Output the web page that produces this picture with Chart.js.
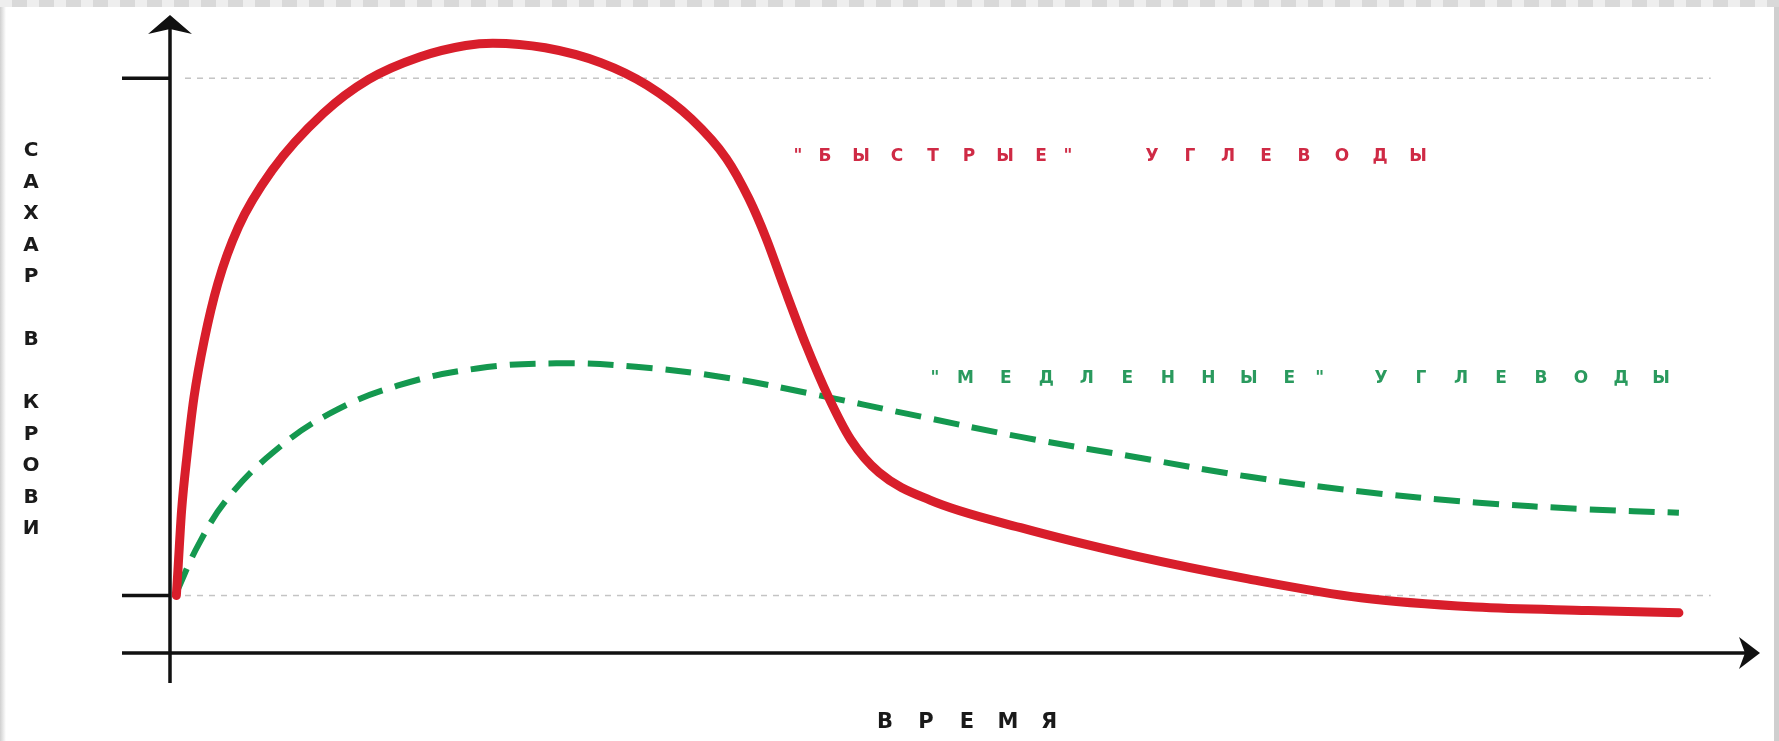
<!DOCTYPE html>
<html>
<head>
<meta charset="utf-8">
<script src="https://cdn.jsdelivr.net/npm/chart.js@4.4.1/dist/chart.umd.min.js"></script>
<style>
  html, body { margin: 0; padding: 0; background: #fff; }
  #wrap { position: relative; width: 1779px; height: 741px; }
</style>
</head>
<body>
<div id="wrap"><canvas id="sugarChart"></canvas></div>
<script>
// time axis runs 0..100, blood sugar 0..111 (reference levels at 10 and 100)
var fastX = [0.4, 0.51, 0.73, 1.08, 1.51, 2.15, 3.01, 4.3, 6.43, 9.65, 12.5, 15.7, 18.6, 20.3, 23.6, 27.1, 30.0, 32.8, 35.0, 36.4, 37.5, 38.6, 40.0, 41.4, 42.8, 44.6, 47.8, 53.5, 60.7, 67.8, 74.9, 82.1, 89.2, 94.9];
var fastY = [10, 14.9, 24.8, 34.6, 44.5, 54.4, 64.3, 74.1, 84.0, 93.9, 99.8, 103.7, 105.7, 106.1, 105.3, 102.7, 98.8, 92.9, 86.0, 79.1, 72.1, 63.8, 53.6, 44.6, 37.2, 31.4, 26.6, 21.8, 16.9, 12.9, 9.6, 8.0, 7.4, 7.0];

var slowX = [0.4, 1.8, 3.6, 6.4, 10.0, 14.3, 19.3, 24.3, 29.3, 35.0, 40.7, 46.4, 53.5, 60.7, 67.8, 74.9, 82.1, 89.2, 94.9];
var slowY = [10.5, 18.9, 26.8, 34.7, 41.6, 46.5, 49.5, 50.4, 49.8, 47.9, 44.9, 41.6, 37.6, 34.1, 30.7, 28.1, 26.2, 25.0, 24.4];

var refLevels = [10, 100];
var fastWords = ['"БЫСТРЫЕ"', 'УГЛЕВОДЫ'];
var slowWords = ['"МЕДЛЕННЫЕ"', 'УГЛЕВОДЫ'];
var yTitle = 'САХАР В КРОВИ';
var xTitle = 'ВРЕМЯ';

function toPoints(xs, ys) {
  return xs.map(function (x, i) { return { x: x, y: ys[i] }; });
}

// draws a word letter by letter, quotes take a bit less room
function spaced(ctx, text, x, y, step) {
  var cx = x;
  for (var i = 0; i < text.length; i++) {
    ctx.fillText(text[i], cx, y);
    var q = text[i] === '"' || text[i + 1] === '"';
    cx += q ? step * 0.75 : step;
  }
}

var framePlugin = {
  id: 'frame',
  beforeDraw: function (chart) {
    var ctx = chart.ctx, w = chart.width, h = chart.height;
    ctx.save();
    // grey frame round the picture
    ctx.fillStyle = '#d9d9d9';
    ctx.fillRect(0, 0, w, 7);
    ctx.fillStyle = '#eeeeee';
    for (var sx = 0; sx < w; sx += 27) ctx.fillRect(sx, 0, 12, 7);
    var g = ctx.createLinearGradient(0, 0, 6, 0);
    g.addColorStop(0, '#d0d0d0'); g.addColorStop(1, '#ffffff');
    ctx.fillStyle = g;
    ctx.fillRect(0, 7, 6, h);
    ctx.fillStyle = '#cfcfcf';
    ctx.fillRect(w - 5, 7, 5, h);
    ctx.restore();
  },
  beforeDatasetsDraw: function (chart) {
    var ctx = chart.ctx, xs = chart.scales.x, ys = chart.scales.y, a = chart.chartArea;
    var x0 = xs.getPixelForValue(0), yb = ys.getPixelForValue(0);
    ctx.save();
    // dashed reference levels
    ctx.strokeStyle = '#c4c4c4';
    ctx.lineWidth = 1.5;
    ctx.setLineDash([6, 6]);
    refLevels.forEach(function (v) {
      var py = ys.getPixelForValue(v);
      ctx.beginPath();
      ctx.moveTo(x0 + 15, py);
      ctx.lineTo(xs.getPixelForValue(96.9), py);
      ctx.stroke();
    });
    ctx.setLineDash([]);
    // axes
    ctx.strokeStyle = '#111';
    ctx.fillStyle = '#111';
    ctx.lineWidth = 3.5;
    ctx.beginPath();
    ctx.moveTo(x0, yb + 30);
    ctx.lineTo(x0, a.top + 10);
    ctx.moveTo(x0 - 48, yb);
    ctx.lineTo(a.right - 10, yb);
    refLevels.forEach(function (v) {
      var py = ys.getPixelForValue(v);
      ctx.moveTo(x0 - 48, py);
      ctx.lineTo(x0, py);
    });
    ctx.stroke();
    // arrow heads
    ctx.beginPath();
    ctx.moveTo(x0, a.top);
    ctx.lineTo(x0 + 22, a.top + 19);
    ctx.lineTo(x0, a.top + 14);
    ctx.lineTo(x0 - 22, a.top + 19);
    ctx.closePath();
    ctx.fill();
    ctx.beginPath();
    ctx.moveTo(a.right, yb);
    ctx.lineTo(a.right - 21, yb + 16);
    ctx.lineTo(a.right - 15, yb);
    ctx.lineTo(a.right - 21, yb - 16);
    ctx.closePath();
    ctx.fill();
    ctx.restore();
  },
  afterDatasetsDraw: function (chart) {
    var ctx = chart.ctx;
    ctx.save();
    ctx.textAlign = 'center';
    ctx.textBaseline = 'middle';
    // vertical axis title, one letter under another
    ctx.fillStyle = '#1a1a1a';
    ctx.font = 'bold 20px "DejaVu Sans", sans-serif';
    for (var i = 0; i < yTitle.length; i++) {
      ctx.fillText(yTitle[i], 31, 151 + i * 31.5);
    }
    ctx.font = 'bold 21px "DejaVu Sans", sans-serif';
    spaced(ctx, xTitle, 885, 723, 41);
    // curve labels
    ctx.font = 'bold 17px "DejaVu Sans", sans-serif';
    ctx.fillStyle = '#cf2a45';
    spaced(ctx, fastWords[0], 798, 157, 36);
    spaced(ctx, fastWords[1], 1152, 157, 38);
    ctx.fillStyle = '#2a9a5e';
    spaced(ctx, slowWords[0], 935, 379, 40.5);
    spaced(ctx, slowWords[1], 1381, 379, 40);
    ctx.restore();
  }
};

new Chart(document.getElementById('sugarChart'), {
  type: 'line',
  data: {
    datasets: [{
      label: 'fast',
      data: toPoints(fastX, fastY),
      borderColor: '#d81e2b',
      borderWidth: 9,
      borderCapStyle: 'round',
      pointRadius: 0,
      cubicInterpolationMode: 'monotone'
    }, {
      label: 'slow',
      data: toPoints(slowX, slowY),
      borderColor: '#14984f',
      borderWidth: 6,
      borderDash: [26, 13],
      pointRadius: 0,
      tension: 0.4
    }]
  },
  options: {
    responsive: true,
    maintainAspectRatio: false,
    animation: false,
    layout: { padding: { left: 170, right: 19, top: 15, bottom: 88 } },
    plugins: { legend: { display: false }, tooltip: { enabled: false } },
    scales: {
      x: { type: 'linear', min: 0, max: 100, display: false },
      y: { min: 0, max: 111, display: false }
    }
  },
  plugins: [framePlugin]
});
</script>
</body>
</html>
